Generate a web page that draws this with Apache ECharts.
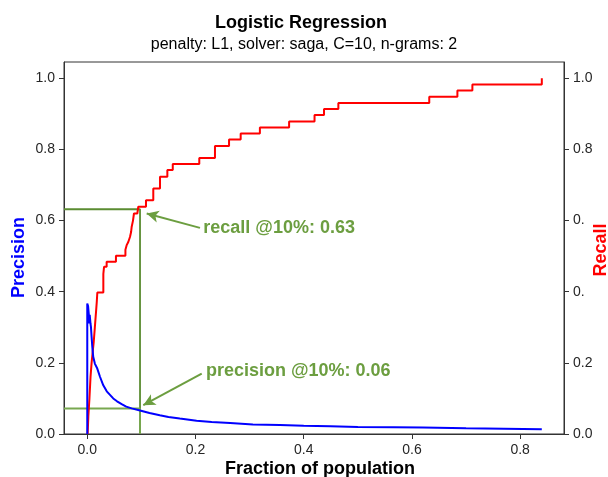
<!DOCTYPE html>
<html>
<head>
<meta charset="utf-8">
<script src="https://cdn.jsdelivr.net/npm/echarts@6/dist/echarts.min.js"></script>
<style>
html,body{margin:0;padding:0;background:#fff;}
#chart{width:608px;height:477px;}
</style>
</head>
<body>
<div id="chart"></div>
<script>
// ---- data ----
const titleText = 'Logistic Regression';
const subtitleText = 'penalty: L1, solver: saga, C=10, n-grams: 2';
const xLabel = 'Fraction of population';
const leftLabel = 'Precision';
const rightLabel = 'Recall';
const xTicks = [0, 0.2, 0.4, 0.6, 0.8];
const yTicks = [0, 0.2, 0.4, 0.6, 0.8, 1.0];
const xRange = [-0.043, 0.881];
const yRange = [0, 1.046];

// recall: points after each jump (stepped line)
const recallX = [0.0007, 0.002, 0.004, 0.006, 0.008, 0.010, 0.012, 0.014, 0.016, 0.0175, 0.0186,
  0.0297, 0.031, 0.0358, 0.053, 0.0705, 0.0728, 0.0758, 0.0789, 0.081, 0.082, 0.0845, 0.0863,
  0.0925, 0.0943, 0.1085, 0.122, 0.1344, 0.148, 0.158, 0.207, 0.236, 0.262, 0.2835, 0.319,
  0.373, 0.420, 0.4375, 0.464, 0.632, 0.684, 0.7117, 0.840];
const recallY = [0.0, 0.05, 0.10, 0.16, 0.20, 0.23, 0.26, 0.30, 0.34, 0.37, 0.398,
  0.45, 0.47, 0.484, 0.501, 0.518, 0.531, 0.540, 0.554, 0.568, 0.582, 0.600, 0.620,
  0.625, 0.639, 0.657, 0.690, 0.723, 0.742, 0.759, 0.776, 0.810, 0.828, 0.845, 0.862,
  0.879, 0.897, 0.914, 0.931, 0.948, 0.966, 0.983, 1.0];

// precision curve
const precisionX = [0.0, 0.0, 0.0015, 0.0026, 0.0032, 0.0037, 0.0045, 0.005, 0.006, 0.0068, 0.008,
  0.0093, 0.010, 0.011, 0.014, 0.0185, 0.0235, 0.0296, 0.031, 0.036, 0.042, 0.048, 0.055,
  0.0636, 0.072, 0.082, 0.0975, 0.115, 0.134, 0.150, 0.171, 0.202, 0.230, 0.264, 0.306,
  0.356, 0.400, 0.449, 0.500, 0.566, 0.620, 0.700, 0.770, 0.840];
const precisionY = [0.0, 0.367, 0.360, 0.362, 0.330, 0.311, 0.335, 0.339, 0.310, 0.301, 0.273,
  0.245, 0.250, 0.217, 0.198, 0.184, 0.161, 0.137, 0.140, 0.120, 0.110, 0.100, 0.092,
  0.084, 0.077, 0.072, 0.066, 0.059, 0.053, 0.048, 0.0435, 0.037, 0.034, 0.031, 0.027,
  0.025, 0.023, 0.022, 0.020, 0.019, 0.018, 0.016, 0.015, 0.0135];

// annotation: cut-off at 10% of population
const cutX = 0.0975;
const recallAt = 0.632;
const precisionAt = 0.0717;
const recallNote = 'recall @10%: 0.63';
const precisionNote = 'precision @10%: 0.06';
const recallArrowFrom = [0.2083, 0.5796];
const recallArrowTo = [0.1098, 0.620];
const precisionArrowFrom = [0.2115, 0.170];
const precisionArrowTo = [0.1035, 0.081];
const recallNoteAt = [0.2144, 0.579];
const precisionNoteAt = [0.2194, 0.1769];

// ---- chart ----
const FONT = 'Liberation Sans';
const GREEN_LINE = '#5b8c32';
const GREEN_TEXT = '#6c9e40';
const AXIS = '#333333';
const TICKTXT = '#262626';

const zip = (xs, ys) => xs.map((x, i) => [x, ys[i]]);

const chart = echarts.init(document.getElementById('chart'), null, {renderer: 'canvas'});

function yAxisDef(pos, fmt) {
  return {
    type: 'value', position: pos, min: yRange[0], max: yRange[1],
    axisLine: {show: true, onZero: false, lineStyle: {color: AXIS, width: 1}},
    axisTick: {show: true, length: 5, inside: false, customValues: yTicks, lineStyle: {color: AXIS}},
    axisLabel: {show: true, customValues: yTicks, margin: 9, color: TICKTXT, fontFamily: FONT, fontSize: 14, formatter: fmt},
    splitLine: {show: false}
  };
}

const option = {
  animation: false,
  backgroundColor: '#ffffff',
  grid: {left: 64, right: 44, top: 62, bottom: 43, show: true, borderColor: AXIS, borderWidth: 1, backgroundColor: 'transparent'},
  xAxis: {
    type: 'value', min: xRange[0], max: xRange[1],
    axisLine: {show: true, onZero: false, lineStyle: {color: AXIS, width: 1}},
    axisTick: {show: true, length: 5, customValues: xTicks, lineStyle: {color: AXIS}},
    axisLabel: {show: true, customValues: xTicks, margin: 9, color: TICKTXT, fontFamily: FONT, fontSize: 14,
      formatter: v => v.toFixed(1)},
    splitLine: {show: false}
  },
  yAxis: [
    yAxisDef('left', v => v.toFixed(1)),
    yAxisDef('right', v => (Math.abs(v - 0.6) < 1e-9 || Math.abs(v - 0.4) < 1e-9) ? '0.' : v.toFixed(1))
  ],
  series: [
    {
      name: 'recall cut', type: 'line', yAxisIndex: 1, showSymbol: false, silent: true, z: 1,
      data: [[xRange[0], recallAt], [cutX, recallAt], [cutX, 0]],
      lineStyle: {color: GREEN_LINE, width: 1.8}
    },
    {
      name: 'precision cut', type: 'line', yAxisIndex: 0, showSymbol: false, silent: true, z: 1,
      data: [[xRange[0], precisionAt], [cutX, precisionAt], [cutX, 0]],
      lineStyle: {color: '#78a850', width: 1.8}
    },
    {
      name: 'Recall', type: 'line', yAxisIndex: 1, step: 'end', showSymbol: false, z: 3,
      data: zip(recallX, recallY),
      lineStyle: {color: '#ff0000', width: 2},
      markLine: {
        silent: true, symbol: ['none', 'arrow'], symbolSize: [9, 12],
        lineStyle: {color: GREEN_TEXT, width: 2, type: 'solid'},
        label: {show: false},
        data: [[{coord: recallArrowFrom}, {coord: recallArrowTo}]]
      },
      markPoint: {
        silent: true, symbol: 'circle', symbolSize: 0,
        data: [{coord: recallNoteAt, label: {show: true, position: 'right', distance: 0, formatter: recallNote,
          color: GREEN_TEXT, fontFamily: FONT, fontWeight: 'bold', fontSize: 18}}]
      }
    },
    {
      name: 'Precision', type: 'line', yAxisIndex: 0, showSymbol: false, z: 3,
      data: zip(precisionX, precisionY),
      lineStyle: {color: '#0000ff', width: 2},
      markLine: {
        silent: true, symbol: ['none', 'arrow'], symbolSize: [9, 12],
        lineStyle: {color: GREEN_TEXT, width: 2, type: 'solid'},
        label: {show: false},
        data: [[{coord: precisionArrowFrom}, {coord: precisionArrowTo}]]
      },
      markPoint: {
        silent: true, symbol: 'circle', symbolSize: 0,
        data: [{coord: precisionNoteAt, label: {show: true, position: 'right', distance: 0, formatter: precisionNote,
          color: GREEN_TEXT, fontFamily: FONT, fontWeight: 'bold', fontSize: 18}}]
      }
    }
  ],
  graphic: [
    {type: 'text', x: 301, y: 23, style: {text: titleText, fill: '#000', font: 'bold 18px "Liberation Sans"', align: 'center', verticalAlign: 'middle'}},
    {type: 'text', x: 304, y: 45, style: {text: subtitleText, fill: '#000', font: '16px "Liberation Sans"', align: 'center', verticalAlign: 'middle'}},
    {type: 'text', x: 320, y: 469, style: {text: xLabel, fill: '#000', font: 'bold 18px "Liberation Sans"', align: 'center', verticalAlign: 'middle'}},
    {type: 'text', x: 18.6, y: 257.5, rotation: Math.PI / 2, style: {text: leftLabel, fill: '#0000ff', font: 'bold 18px "Liberation Sans"', align: 'center', verticalAlign: 'middle'}},
    {type: 'text', x: 601.5, y: 250, rotation: Math.PI / 2, style: {text: rightLabel, fill: '#ff0000', font: 'bold 18px "Liberation Sans"', align: 'center', verticalAlign: 'middle'}}
  ]
};
chart.setOption(option);
</script>
</body>
</html>
